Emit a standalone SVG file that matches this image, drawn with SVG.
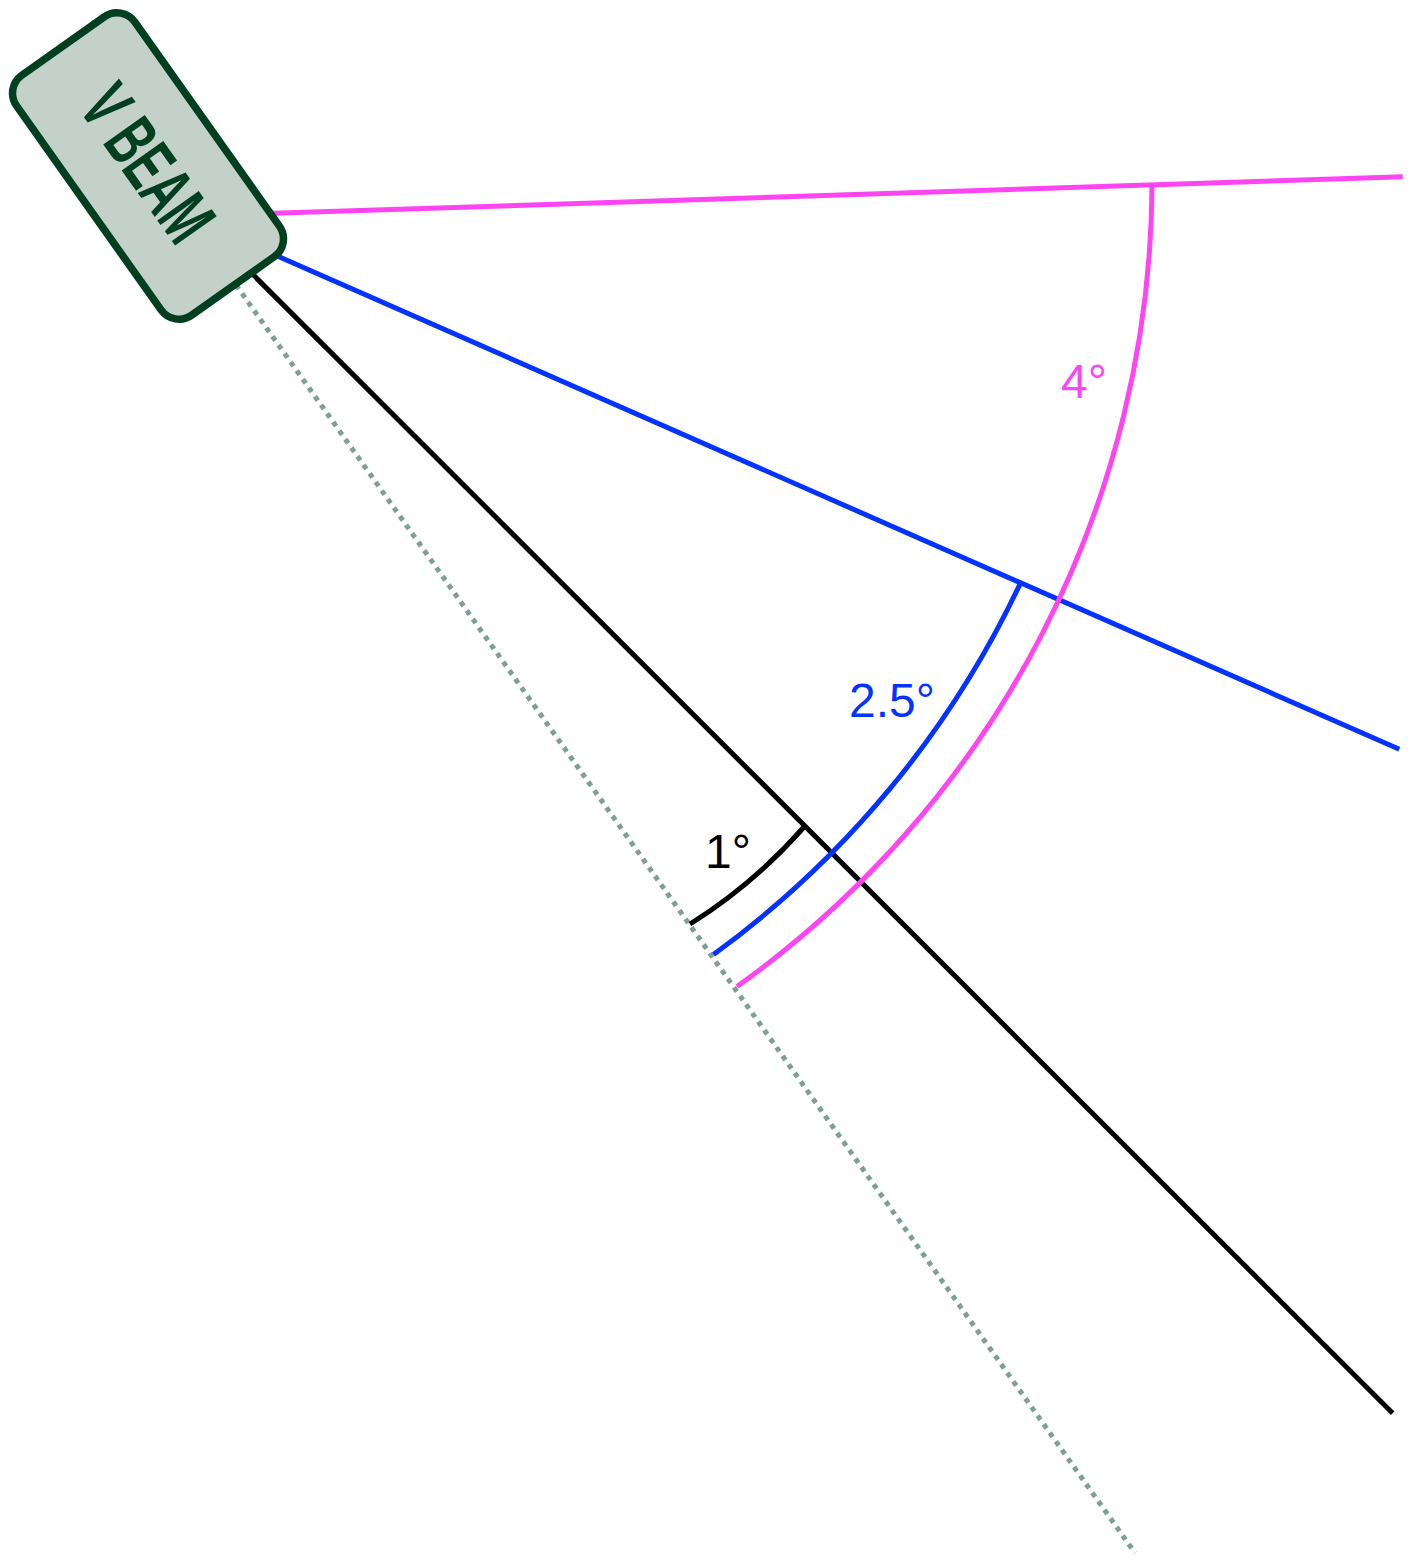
<svg xmlns="http://www.w3.org/2000/svg" width="1408" height="1557" viewBox="0 0 1408 1557">
<style>
.ln{fill:none;stroke-width:5;stroke-linecap:butt}
.pink{stroke:#ff44f2}
.blue{stroke:#0433ff}
.black{stroke:#000}
.dot{fill:none;stroke:#7f9f91;stroke-width:5;stroke-dasharray:5 5.5}
.lbl{font-family:"Liberation Sans",Arial,sans-serif;font-size:48px}
.box{fill:#c3d1c9;stroke:#003f1f;stroke-width:7.5}
.boxt{font-family:"Liberation Sans",Arial,sans-serif;font-weight:bold;font-size:74px;fill:#003f1f}
</style>
<rect width="1408" height="1557" fill="#fff"/>
<g id="connectors">
<path class="dot" d="M236,285 L1135,1553"/>
<path class="ln pink" d="M265,213.6 L1402.7,176.7"/>
<path class="ln blue" d="M265,250.6 L1399.3,749.3"/>
<path class="ln black" d="M245,266.6 L1392.7,1413.3"/>
<path class="ln black" d="M690,924 A520 520 0 0 0 804,827"/>
<path class="ln blue" d="M713.5,954.5 A970 970 0 0 0 1021,582"/>
<path class="ln pink" d="M737,986.5 A990 990 0 0 0 1152,185"/>
</g>
<g id="label-1deg"><text class="lbl" x="705" y="868" fill="#000">1°</text></g>
<g id="label-2-5deg"><text class="lbl" x="849" y="717" fill="#0433ff">2.5°</text></g>
<g id="label-4deg"><text class="lbl" x="1061" y="397.5" fill="#ff44f2">4°</text></g>
<g id="vbeam">
<rect class="box" x="-147" y="-72.5" width="294" height="145" rx="22" transform="translate(148,166) rotate(54.7)"/>
<text class="boxt" x="0" y="0" text-anchor="middle" textLength="172" lengthAdjust="spacingAndGlyphs" transform="translate(127,178) rotate(54.7)">V BEAM</text>
</g>
</svg>
